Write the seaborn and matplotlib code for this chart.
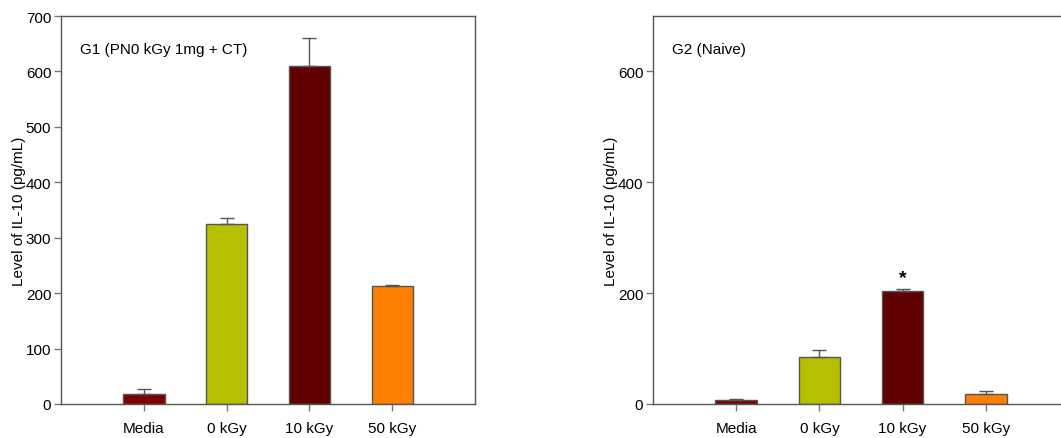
import numpy as np
import pandas as pd
import matplotlib
matplotlib.use("Agg")
import matplotlib.pyplot as plt
import seaborn as sns

# IL-10 levels by stimulation condition
categories = ["Media", "0 kGy", "10 kGy", "50 kGy"]
g1_means = [18, 325, 609, 213]
g1_sem = [9, 10, 51, 1]
g2_means = [7, 85, 204, 18]
g2_sem = [1.5, 12, 3, 6]
bar_colors = ["#800000", "#b6bf00", "#600000", "#ff8000"]
g1_title = "G1 (PN0 kGy 1mg + CT)"
g2_title = "G2 (Naive)"
g1_yticks = [0, 100, 200, 300, 400, 500, 600, 700]
g2_yticks = [0, 200, 400, 600]
ylabel = "Level of IL-10 (pg/mL)"

sns.set_style("white")
plt.rcParams["font.family"] = ["Liberation Sans Narrow", "Liberation Sans", "DejaVu Sans"]
plt.rcParams["text.color"] = "black"
plt.rcParams["axes.labelcolor"] = "black"
plt.rcParams["xtick.color"] = "black"
plt.rcParams["ytick.color"] = "black"

fig = plt.figure(figsize=(10.61, 4.39), dpi=100)
ax1 = fig.add_axes([61 / 1061, 34 / 439, 414 / 1061, 388 / 439])
ax2 = fig.add_axes([653 / 1061, 34 / 439, 416 / 1061, 388 / 439])

spine_col = "#555555"


def draw_panel(ax, means, sem, title, yticks, star=None):
    df = pd.DataFrame({"cond": categories, "val": means})
    sns.barplot(data=df, x="cond", y="val", hue="cond", palette=bar_colors,
                order=categories, hue_order=categories, width=0.5,
                edgecolor="#555555", linewidth=1.0, legend=False, ax=ax,
                errorbar=None, saturation=1)
    x = np.arange(len(categories))
    ax.errorbar(x, means, yerr=[np.zeros(len(sem)), sem], fmt="none",
                ecolor="#555555", elinewidth=1.0, capsize=5, capthick=1.0,
                zorder=1)
    ax.set_xlim(-1, 4)
    ax.set_ylim(0, 700)
    ax.set_yticks(yticks)
    ax.set_xlabel("")
    ax.set_ylabel(ylabel, fontsize=11, labelpad=0)
    ax.tick_params(axis="both", which="both", direction="out", length=5,
                   width=1, color="#777777", labelsize=11,
                   bottom=True, left=True)
    ax.tick_params(axis="x", pad=7)
    ax.tick_params(axis="y", pad=2)
    for s in ax.spines.values():
        s.set_color(spine_col)
        s.set_linewidth(1.0)
    ax.text(0.045, 0.915, title, transform=ax.transAxes, fontsize=11,
            ha="left", va="center")
    if star is not None:
        ax.text(star, means[star] + 8, "*", ha="center", va="bottom",
                fontsize=14, fontweight="bold")


draw_panel(ax1, g1_means, g1_sem, g1_title, g1_yticks)
draw_panel(ax2, g2_means, g2_sem, g2_title, g2_yticks, star=2)

fig.savefig("out.png", dpi=100)
